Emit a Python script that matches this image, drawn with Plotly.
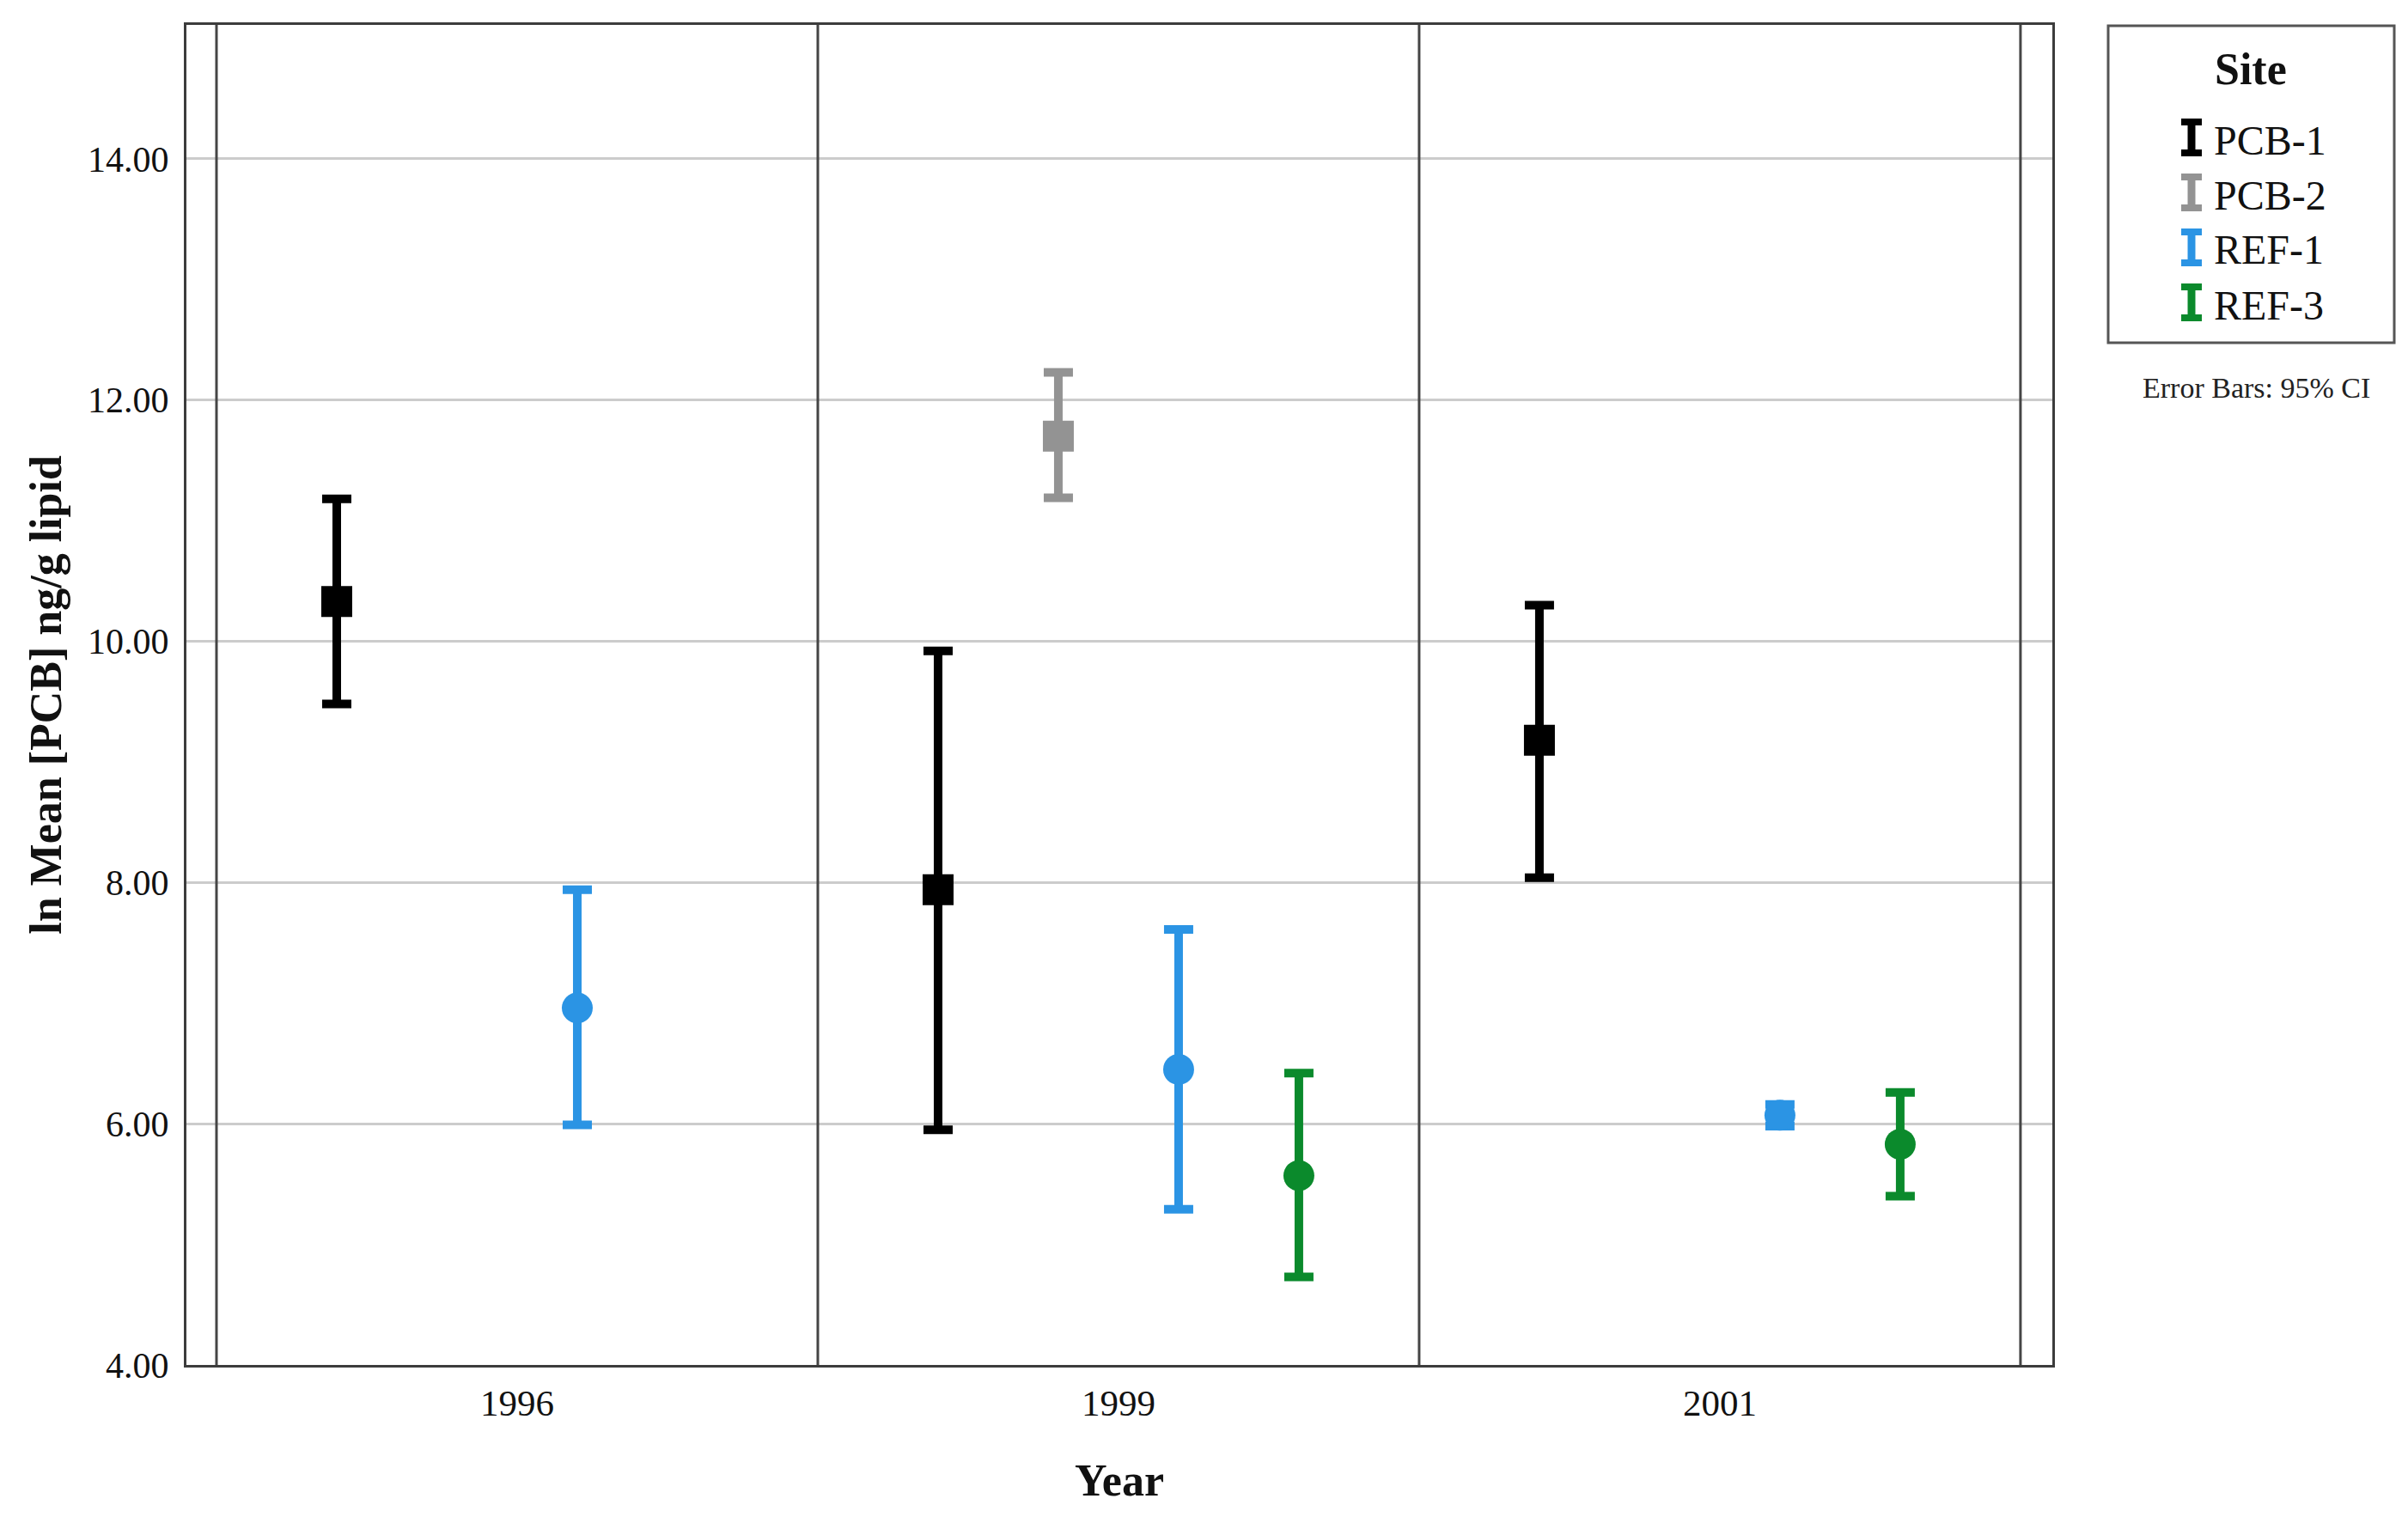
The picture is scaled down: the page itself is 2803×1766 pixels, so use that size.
import plotly.graph_objects as go

# ---------------- data ----------------
years = ["1996", "1999", "2001"]
sites = ["PCB-1", "PCB-2", "REF-1", "REF-3"]

pcb1_mean = [10.33, 7.94, 9.18]
pcb1_low = [9.48, 5.95, 8.04]
pcb1_high = [11.18, 9.92, 10.30]

pcb2_mean = [None, 11.70, None]
pcb2_low = [None, 11.19, None]
pcb2_high = [None, 12.23, None]

ref1_mean = [6.96, 6.45, 6.07]
ref1_low = [5.99, 5.29, 5.98]
ref1_high = [7.94, 7.61, 6.16]

ref3_mean = [None, 5.57, 5.83]
ref3_low = [None, 4.73, 5.40]
ref3_high = [None, 6.42, 6.26]

y_ticks = [4, 6, 8, 10, 12, 14]

# ---------------- styling ----------------
FONT = "Liberation Serif"
PAGE_OFF = 8                 # default body margin of the html page
W, H = 2803 - 2 * PAGE_OFF, 1766 - 2 * PAGE_OFF
L, R, T, B = 217, 2389, 29, 1589  # plot area in screen px
site_offsets = [-0.3, -0.1, 0.1, 0.3]
site_colors = ["#000000", "#939393", "#2b94e4", "#0b8a2c"]
site_symbols = ["square", "square", "circle", "circle"]

series = [
    (pcb1_mean, pcb1_low, pcb1_high),
    (pcb2_mean, pcb2_low, pcb2_high),
    (ref1_mean, ref1_low, ref1_high),
    (ref3_mean, ref3_low, ref3_high),
]

fig = go.Figure()
for si, (site, (m, lo, hi)) in enumerate(zip(sites, series)):
    xs, ys, ep, em = [], [], [], []
    for yi in range(len(years)):
        if m[yi] is None:
            continue
        xs.append(yi + site_offsets[si])
        ys.append(m[yi])
        ep.append(hi[yi] - m[yi])
        em.append(m[yi] - lo[yi])
    fig.add_trace(go.Scatter(
        x=xs, y=ys, mode="markers", name=site, showlegend=False,
        marker=dict(symbol=site_symbols[si], size=36, color=site_colors[si],
                    line=dict(width=0)),
        error_y=dict(type="data", symmetric=False, array=ep, arrayminus=em,
                     color=site_colors[si], thickness=10, width=17),
    ))

# separators between year panels
for k in range(len(years) + 1):
    fig.add_shape(type="line", xref="x", yref="y domain",
                  x0=k - 0.5, x1=k - 0.5, y0=0, y1=1,
                  line=dict(color="#454545", width=3), layer="above")


def px_x(p):
    return (p - L) / (R - L)


def px_y(p):
    return (B - p) / (B - T)


# manual legend box
fig.add_shape(type="rect", xref="paper", yref="paper",
              x0=px_x(2454), x1=px_x(2787), y0=px_y(30), y1=px_y(399),
              line=dict(color="#555555", width=3), fillcolor="white")
fig.add_annotation(text="<b>Site</b>", xref="paper", yref="paper",
                   x=px_x(2620), y=px_y(80), showarrow=False,
                   xanchor="center", yanchor="middle",
                   font=dict(family=FONT, size=52, color="#111"))
item_y = [160, 224, 288, 352]
for si, site in enumerate(sites):
    cy = item_y[si]
    cx = 2551
    col = site_colors[si]
    fig.add_shape(type="line", xref="paper", yref="paper",
                  x0=px_x(cx), x1=px_x(cx), y0=px_y(cy - 18), y1=px_y(cy + 18),
                  line=dict(color=col, width=9))
    for dy in (-18, 18):
        fig.add_shape(type="line", xref="paper", yref="paper",
                      x0=px_x(cx - 12), x1=px_x(cx + 12),
                      y0=px_y(cy + dy), y1=px_y(cy + dy),
                      line=dict(color=col, width=8))
    fig.add_annotation(text=site, xref="paper", yref="paper",
                       x=px_x(2575), y=px_y(cy + 3), showarrow=False,
                       xanchor="left", yanchor="middle",
                       font=dict(family=FONT, size=48, color="#111"))

fig.add_annotation(text="Error Bars: 95% CI", xref="paper", yref="paper",
                   x=px_x(2626), y=px_y(451), showarrow=False,
                   xanchor="center", yanchor="middle",
                   font=dict(family=FONT, size=34, color="#222"))

fig.update_layout(
    width=W, height=H,
    margin=dict(l=L - PAGE_OFF, r=PAGE_OFF + W - R, t=T - PAGE_OFF,
                b=PAGE_OFF + H - B),
    paper_bgcolor="white", plot_bgcolor="white",
    font=dict(family=FONT, color="#111"),
    showlegend=False,
    xaxis=dict(
        range=[-0.55, len(years) - 1 + 0.553],
        tickvals=list(range(len(years))), ticktext=years,
        showgrid=False, zeroline=False, ticks="",
        showline=True, linecolor="#3c3c3c", linewidth=3, mirror=True,
        tickfont=dict(family=FONT, size=43, color="#111"),
        ticklabelstandoff=4,
        title=dict(text="<b>Year</b>", font=dict(family=FONT, size=52, color="#111"),
                   standoff=50),
    ),
    yaxis=dict(
        range=[4, 15.11],
        tickvals=y_ticks, ticktext=[f"{v:.2f}" for v in y_ticks],
        showgrid=True, gridcolor="#cccccc", gridwidth=3, zeroline=False, ticks="",
        showline=True, linecolor="#3c3c3c", linewidth=3, mirror=True,
        tickfont=dict(family=FONT, size=42, color="#111"),
        ticklabelstandoff=9,
        title=dict(text="<b>ln Mean [PCB] ng/g lipid</b>",
                   font=dict(family=FONT, size=52, color="#111"), standoff=14),
    ),
)

fig.write_html("out.html")
